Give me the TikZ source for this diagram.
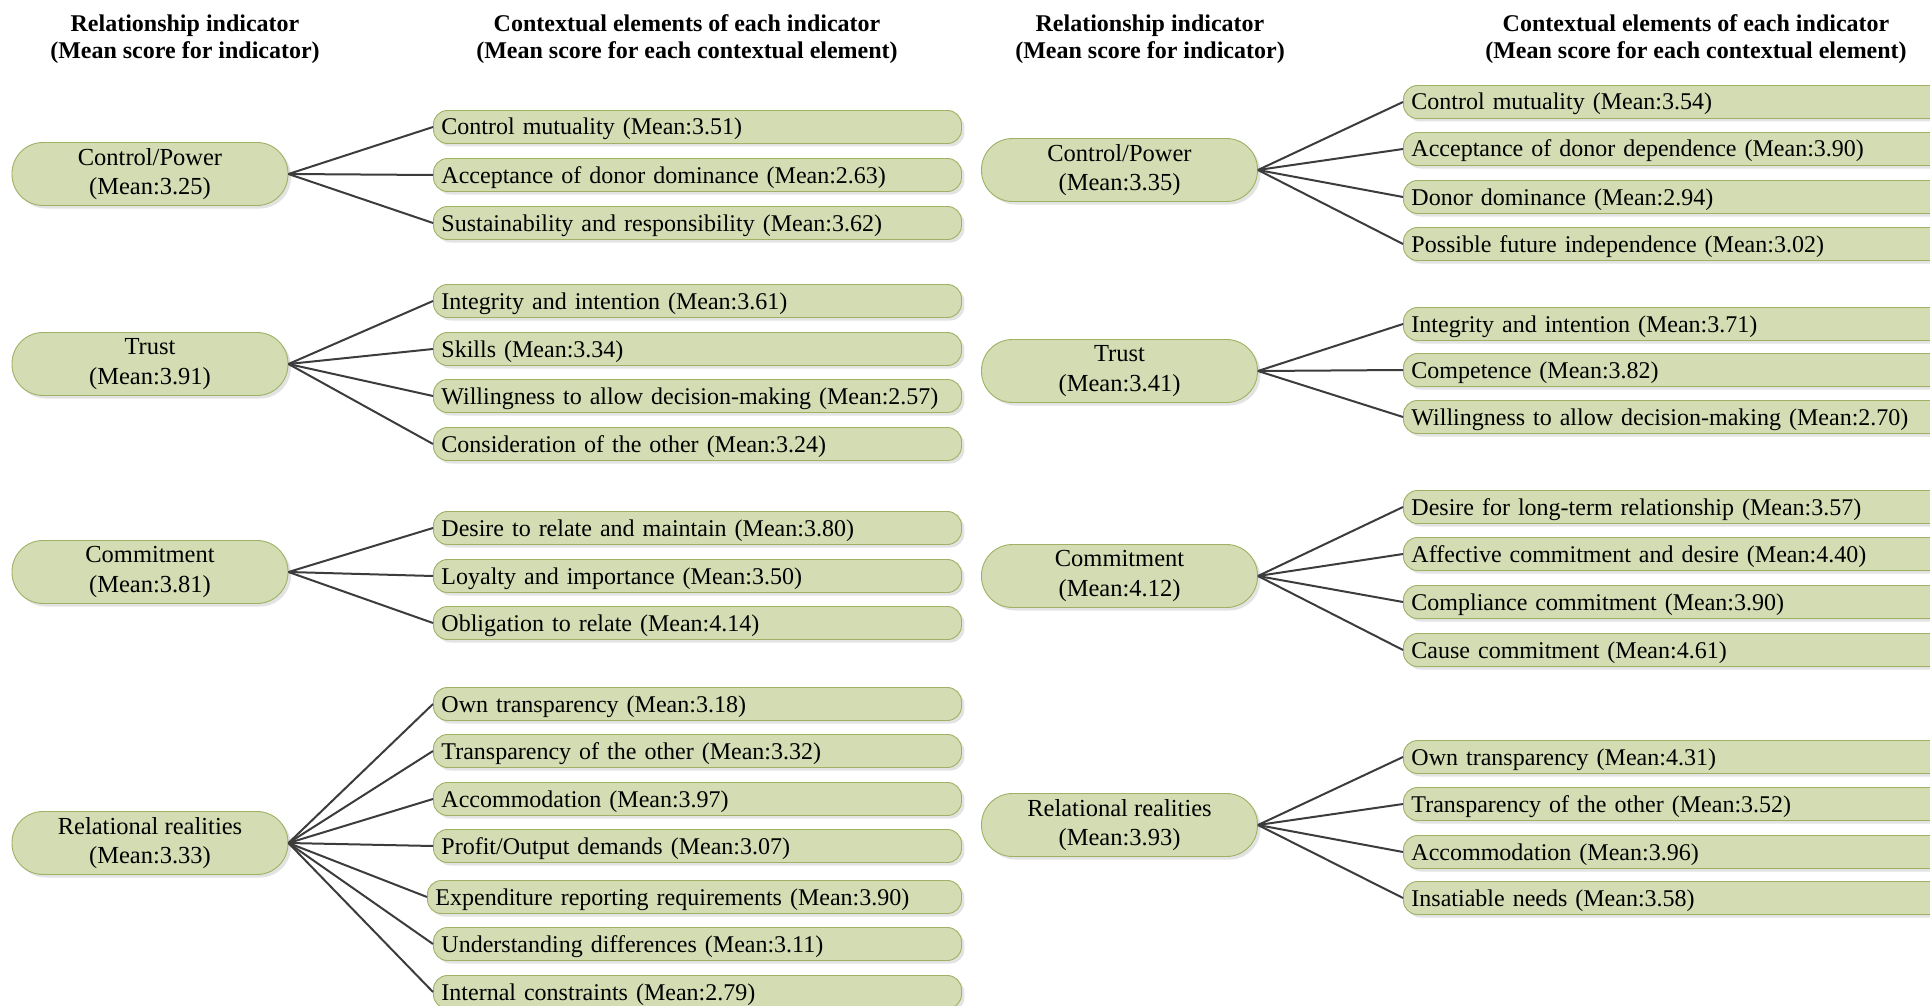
\documentclass[tikz,border=0pt]{standalone}
\usepackage{fontspec}
\setmainfont{Liberation Serif}
\usetikzlibrary{shadows}
\definecolor{boxfill}{HTML}{D3DCB3}
\definecolor{boxline}{HTML}{9FB163}
\definecolor{linkcol}{HTML}{3C3C3C}
\begin{document}
\begin{tikzpicture}[x=1pt,y=-1pt,
  indic/.style={draw=boxline, fill=boxfill, line width=0.9pt, rounded corners=31pt,
    minimum width=276pt, minimum height=63pt, align=center, inner sep=0pt,
    font=\fontsize{24.5}{29.5}\selectfont,
    drop shadow={shadow xshift=3pt, shadow yshift=-3pt, fill=black!22}},
  elem/.style={draw=boxline, fill=boxfill, line width=0.9pt, rounded corners=14pt,
    minimum height=33pt, text width=512pt, align=left, inner xsep=8pt, inner ysep=0pt,
    text height=19pt, text depth=3pt,
    anchor=west, font=\fontsize{24}{28}\selectfont,
    drop shadow={shadow xshift=3pt, shadow yshift=-3pt, fill=black!22}},
  relem/.style={elem, text width=600pt},
  hdr/.style={align=center, font=\bfseries\fontsize{24}{27}\selectfont, inner sep=0pt},
  link/.style={draw=linkcol, line width=2pt}
]
\useasboundingbox (0,0) rectangle (1930,1006);
\clip (0,0) rectangle (1930,1006);

% headers
\node[hdr] (h1) at (185,39) {Relationship indicator\\(Mean score for indicator)};
\node[hdr] (h2) at (687,39) {Contextual elements of each indicator\\(Mean score for each contextual element)};
\node[hdr] (h3) at (1150,39) {Relationship indicator\\(Mean score for indicator)};
\node[hdr] (h4) at (1696,39) {Contextual elements of each indicator\\(Mean score for each contextual element)};

% ---------- left panel ----------
\node[indic] (L1) at (150,174) {Control/Power\\(Mean:3.25)};
\node[indic] (L2) at (150,364) {Trust\\(Mean:3.91)};
\node[indic] (L3) at (150,572) {Commitment\\(Mean:3.81)};
\node[indic] (L4) at (150,843) {Relational realities\\(Mean:3.33)};

\node[elem] (L1a) at (433,127) {Control mutuality (Mean:3.51)};
\node[elem] (L1b) at (433,175) {Acceptance of donor dominance (Mean:2.63)};
\node[elem] (L1c) at (433,223) {Sustainability and responsibility (Mean:3.62)};

\node[elem] (L2a) at (433,301) {Integrity and intention (Mean:3.61)};
\node[elem] (L2b) at (433,349) {Skills (Mean:3.34)};
\node[elem] (L2c) at (433,396) {Willingness to allow decision-making (Mean:2.57)};
\node[elem] (L2d) at (433,444) {Consideration of the other (Mean:3.24)};

\node[elem] (L3a) at (433,528) {Desire to relate and maintain (Mean:3.80)};
\node[elem] (L3b) at (433,576) {Loyalty and importance (Mean:3.50)};
\node[elem] (L3c) at (433,623) {Obligation to relate (Mean:4.14)};

\node[elem] (L4a) at (433,704) {Own transparency (Mean:3.18)};
\node[elem] (L4b) at (433,751) {Transparency of the other (Mean:3.32)};
\node[elem] (L4c) at (433,799) {Accommodation (Mean:3.97)};
\node[elem] (L4d) at (433,846) {Profit/Output demands (Mean:3.07)};
\node[elem, text width=518pt] (L4e) at (427,897) {Expenditure reporting requirements (Mean:3.90)};
\node[elem] (L4f) at (433,944) {Understanding differences (Mean:3.11)};
\node[elem] (L4g) at (433,992) {Internal constraints (Mean:2.79)};

\foreach \p/\c in {L1/L1a,L1/L1b,L1/L1c,L2/L2a,L2/L2b,L2/L2c,L2/L2d,L3/L3a,L3/L3b,L3/L3c,
  L4/L4a,L4/L4b,L4/L4c,L4/L4d,L4/L4e,L4/L4f,L4/L4g}
  \draw[link] (\p.east) -- (\c.west);

% ---------- right panel ----------
\node[indic] (R1) at (1119.5,170) {Control/Power\\(Mean:3.35)};
\node[indic] (R2) at (1119.5,371) {Trust\\(Mean:3.41)};
\node[indic] (R3) at (1119.5,576) {Commitment\\(Mean:4.12)};
\node[indic] (R4) at (1119.5,825) {Relational realities\\(Mean:3.93)};

\node[relem] (R1a) at (1403,102) {Control mutuality (Mean:3.54)};
\node[relem] (R1b) at (1403,149) {Acceptance of donor dependence (Mean:3.90)};
\node[relem] (R1c) at (1403,197) {Donor dominance (Mean:2.94)};
\node[relem] (R1d) at (1403,244) {Possible future independence (Mean:3.02)};

\node[relem] (R2a) at (1403,324) {Integrity and intention (Mean:3.71)};
\node[relem] (R2b) at (1403,370) {Competence (Mean:3.82)};
\node[relem] (R2c) at (1403,417) {Willingness to allow decision-making (Mean:2.70)};

\node[relem] (R3a) at (1403,507) {Desire for long-term relationship (Mean:3.57)};
\node[relem] (R3b) at (1403,554) {Affective commitment and desire (Mean:4.40)};
\node[relem] (R3c) at (1403,602) {Compliance commitment (Mean:3.90)};
\node[relem] (R3d) at (1403,650) {Cause commitment (Mean:4.61)};

\node[relem] (R4a) at (1403,757) {Own transparency (Mean:4.31)};
\node[relem] (R4b) at (1403,804) {Transparency of the other (Mean:3.52)};
\node[relem] (R4c) at (1403,852) {Accommodation (Mean:3.96)};
\node[relem] (R4d) at (1403,898) {Insatiable needs (Mean:3.58)};

\foreach \p/\c in {R1/R1a,R1/R1b,R1/R1c,R1/R1d,R2/R2a,R2/R2b,R2/R2c,
  R3/R3a,R3/R3b,R3/R3c,R3/R3d,R4/R4a,R4/R4b,R4/R4c,R4/R4d}
  \draw[link] (\p.east) -- (\c.west);
\end{tikzpicture}
\end{document}
